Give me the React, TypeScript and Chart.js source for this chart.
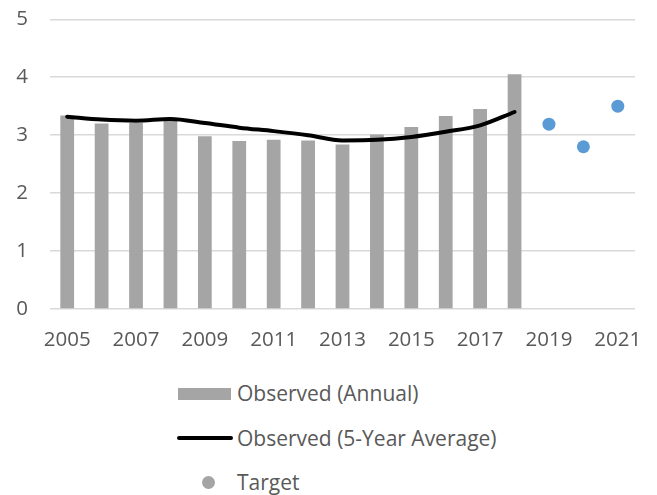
import React, { useEffect, useRef } from "react";
import { Chart, registerables } from "chart.js";

Chart.register(...registerables);

const years = ["2005","2006","2007","2008","2009","2010","2011","2012","2013","2014","2015","2016","2017","2018","2019","2020","2021"];
const annual = [3.34, 3.2, 3.21, 3.25, 2.98, 2.9, 2.92, 2.91, 2.84, 3.01, 3.14, 3.33, 3.45, 4.05, null, null, null];
const fiveYearAvg = [3.32, 3.27, 3.25, 3.28, 3.21, 3.13, 3.07, 3.0, 2.91, 2.92, 2.97, 3.06, 3.17, 3.4, null, null, null];
const target = [null, null, null, null, null, null, null, null, null, null, null, null, null, null, 3.19, 2.8, 3.5];
const yTicks = [0, 1, 2, 3, 4, 5];

const FONT = "'Open Sans', sans-serif";
const TEXT = "#595959";

export default function App() {
  const ref = useRef<HTMLCanvasElement | null>(null);
  useEffect(() => {
    if (!ref.current) return;
    const chart = new Chart(ref.current, {
      type: "bar",
      data: {
        labels: years,
        datasets: [
          {
            type: "line",
            label: "Target",
            data: target as any,
            showLine: false,
            pointRadius: 6.5,
            pointBackgroundColor: "#5B9BD5",
            pointBorderColor: "#5B9BD5",
            pointBorderWidth: 0,
            order: 0,
          },
          {
            type: "line",
            label: "Observed (5-Year Average)",
            data: fiveYearAvg as any,
            borderColor: "#000000",
            borderWidth: 4,
            borderCapStyle: "round",
            borderJoinStyle: "round",
            pointRadius: 0,
            cubicInterpolationMode: "monotone",
            spanGaps: false,
            order: 1,
          },
          {
            type: "bar",
            label: "Observed (Annual)",
            data: annual as any,
            backgroundColor: "#A5A5A5",
            barPercentage: 0.4,
            categoryPercentage: 1,
            order: 2,
          },
        ],
      },
      options: {
        animation: false,
        responsive: false,
        maintainAspectRatio: false,
        layout: { padding: { top: 5, right: 22, left: 0, bottom: 0 } },
        plugins: { legend: { display: false }, tooltip: { enabled: false } },
        scales: {
          x: {
            grid: { display: false },
            border: { display: false },
            ticks: {
              autoSkip: false,
              maxRotation: 0,
              padding: 11,
              color: TEXT,
              font: { family: FONT, size: 20.5 },
              callback: (_v: any, i: number) => (i % 2 === 0 ? years[i] : ""),
            },
            afterFit: (s: any) => { s.height = 61; },
          },
          y: {
            min: 0,
            max: 5,
            afterBuildTicks: (s: any) => { s.ticks = yTicks.map((v) => ({ value: v })); },
            grid: { color: "#D9D9D9", lineWidth: 1.5, drawTicks: false },
            border: { display: false },
            ticks: {
              padding: 22,
              color: TEXT,
              font: { family: FONT, size: 20.5 },
            },
            afterFit: (s: any) => { s.width = 50; },
          },
        },
      },
    });
    return () => chart.destroy();
  }, []);

  const textStyle: React.CSSProperties = {
    position: "absolute",
    left: 237,
    fontFamily: FONT,
    fontSize: 21,
    color: TEXT,
    lineHeight: "26px",
    whiteSpace: "nowrap",
  };

  return (
    <div style={{ position: "fixed", left: 0, top: 0, width: 657, height: 495, background: "#fff", overflow: "hidden" }}>
      <canvas ref={ref} width={657} height={385} style={{ position: "absolute", left: 0, top: -15, display: "block", width: 657, height: 385 }} />
      <div style={{ position: "absolute", left: 178, top: 388, width: 53, height: 12, background: "#A5A5A5" }} />
      <div style={{ ...textStyle, top: 380 }}>Observed (Annual)</div>
      <div style={{ position: "absolute", left: 177, top: 436, width: 56, height: 4, background: "#000", borderRadius: 2 }} />
      <div style={{ ...textStyle, top: 425 }}>Observed (5-Year Average)</div>
      <div style={{ position: "absolute", left: 202, top: 476, width: 13, height: 13, background: "#A5A5A5", borderRadius: "50%" }} />
      <div style={{ ...textStyle, top: 469 }}>Target</div>
    </div>
  );
}
